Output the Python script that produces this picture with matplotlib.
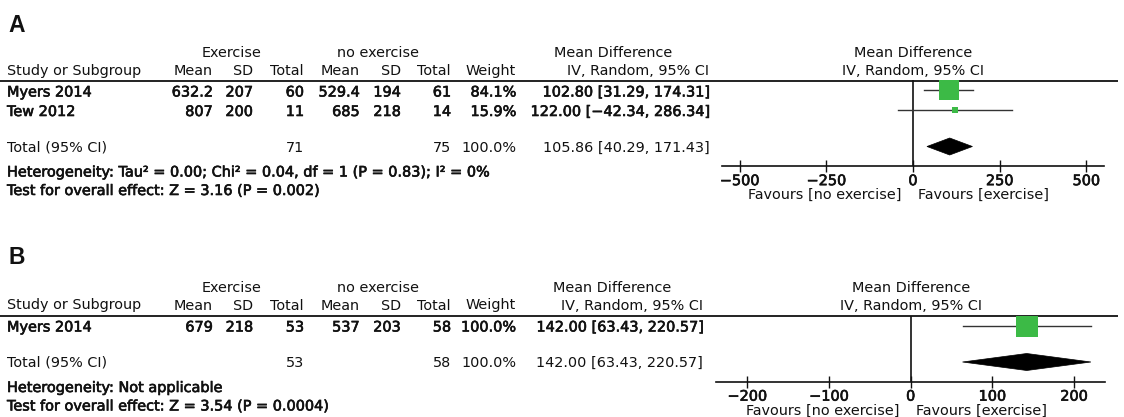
import matplotlib
matplotlib.use("Agg")
import matplotlib.pyplot as plt
from matplotlib.patches import Polygon
import matplotlib.patheffects as pe

# ---------------- data ----------------
# Panel A
a_studies = ["Myers 2014", "Tew 2012"]
a_ex_mean = [632.2, 807]
a_ex_sd = [207, 200]
a_ex_n = [60, 11]
a_ctl_mean = [529.4, 685]
a_ctl_sd = [194, 218]
a_ctl_n = [61, 14]
a_weight = [84.1, 15.9]
a_md = [102.80, 122.00]
a_lo = [31.29, -42.34]
a_hi = [174.31, 286.34]
a_total = [105.86, 40.29, 171.43]
a_heterogeneity = "Heterogeneity: Tau² = 0.00; Chi² = 0.04, df = 1 (P = 0.83); I² = 0%"
a_overall = "Test for overall effect: Z = 3.16 (P = 0.002)"
a_ticks = [-500, -250, 0, 250, 500]

# Panel B
b_studies = ["Myers 2014"]
b_ex_mean = [679]
b_ex_sd = [218]
b_ex_n = [53]
b_ctl_mean = [537]
b_ctl_sd = [203]
b_ctl_n = [58]
b_weight = [100.0]
b_md = [142.00]
b_lo = [63.43]
b_hi = [220.57]
b_total = [142.00, 63.43, 220.57]
b_heterogeneity = "Heterogeneity: Not applicable"
b_overall = "Test for overall effect: Z = 3.54 (P = 0.0004)"
b_ticks = [-200, -100, 0, 100, 200]

col_headers = ["Mean", "SD", "Total", "Mean", "SD", "Total", "Weight"]
group_headers = ["Exercise", "no exercise"]
favours = ["Favours [no exercise]", "Favours [exercise]"]

# ---------------- styling ----------------
W, H = 1124, 417
FONT = "DejaVu Sans"
FS = 10.4
INK = "#111111"
GREEN = "#3cba46"
heavy = [pe.withStroke(linewidth=0.45, foreground=INK)]

plt.rcParams["font.family"] = FONT
plt.rcParams["axes.unicode_minus"] = True

fig = plt.figure(figsize=(W / 100, H / 100), dpi=100)
bg = fig.add_axes([0, 0, 1, 1])
bg.set_xlim(0, W)
bg.set_ylim(H, 0)
bg.axis("off")

col_right = [212.7, 253, 304, 359.5, 400.7, 451, 516]
group_centres = [231.7, 378]


def fmt_num(v):
    return f"{v:g}"


def fmt_ci(md, lo, hi):
    s = f"{md:.2f} [{lo:.2f}, {hi:.2f}]"
    return s.replace("-", "\u2212")


def txt(x, y, s, ha="left", bold=False, **kw):
    bg.text(x, y, s, ha=ha, va="baseline", fontsize=FS, color=INK,
            path_effects=heavy if bold else None, **kw)


def panel(letter, top, letter_base, studies, ex_mean, ex_sd, ex_n,
          ctl_mean, ctl_sd, ctl_n, weight, md, lo, hi, total,
          heterogeneity, overall, ticks, ci_right, md_centre,
          zero_px, ppu, lim):
    # panel letter
    bg.text(8, letter_base, letter, ha="left", va="baseline",
            fontsize=16.5, fontweight="bold", family="Liberation Sans",
            color=INK)

    # header rows
    g_base = top + 56.5
    c_base = top + 74.5
    line_y = top + 80.5
    for c, s in zip(group_centres, group_headers):
        txt(c, g_base, s, ha="center")
    txt(md_centre, g_base, "Mean Difference", ha="center")
    txt(7, c_base, "Study or Subgroup")
    for x, s in zip(col_right, col_headers):
        txt(x, c_base, s, ha="right")
    txt(ci_right, c_base, "IV, Random, 95% CI", ha="right")

    txt(zero_px, g_base, "Mean Difference", ha="center")
    txt(zero_px, c_base, "IV, Random, 95% CI", ha="center")

    bg.plot([0, 1118], [line_y, line_y], color=INK, lw=1.3,
            solid_capstyle="butt")

    # study rows
    pitch = 19.5
    bases = [top + 96.5 + i * pitch for i in range(len(studies))]
    for i, b in enumerate(bases):
        txt(7, b, studies[i], bold=True)
        vals = [fmt_num(ex_mean[i]), fmt_num(ex_sd[i]), str(ex_n[i]),
                fmt_num(ctl_mean[i]), fmt_num(ctl_sd[i]), str(ctl_n[i]),
                f"{weight[i]:.1f}%"]
        for x, s in zip(col_right, vals):
            txt(x, b, s, ha="right", bold=True)
        txt(ci_right, b, fmt_ci(md[i], lo[i], hi[i]), ha="right", bold=True)

    # total row
    t_base = bases[-1] + 35.5
    txt(7, t_base, "Total (95% CI)")
    txt(col_right[2], t_base, str(sum(ex_n)), ha="right")
    txt(col_right[5], t_base, str(sum(ctl_n)), ha="right")
    txt(col_right[6], t_base, f"{sum(weight):.1f}%", ha="right")
    txt(ci_right, t_base, fmt_ci(*total), ha="right")

    h_base = t_base + 25
    txt(7, h_base, heterogeneity, bold=True)
    txt(7, h_base + 18.5, overall, bold=True)

    # forest plot axes, y in figure pixels
    row_y = [b - 6 for b in bases]
    total_y = t_base - 5
    axis_y = total_y + 20
    left = zero_px - lim * ppu
    width = 2 * lim * ppu
    ax = fig.add_axes([left / W, 1 - axis_y / H, width / W,
                       (axis_y - line_y) / H])
    ax.set_xlim(-lim, lim)
    ax.set_ylim(axis_y, line_y)
    ax.patch.set_alpha(0)
    for side in ("top", "left", "right"):
        ax.spines[side].set_visible(False)
    ax.spines["bottom"].set_linewidth(1.2)
    ax.spines["bottom"].set_color(INK)
    ax.set_yticks([])
    ax.set_xticks(ticks)
    ax.tick_params(axis="x", direction="inout", length=8, width=1,
                   color=INK, pad=1.5, labelsize=10.4, labelcolor=INK)
    for lab in ax.get_xticklabels():
        lab.set_path_effects(heavy)

    ax.axvline(0, color=INK, lw=1.2, zorder=1)
    for y, m, l, h, w in zip(row_y, md, lo, hi, weight):
        ax.plot([l, h], [y, y], color="#333333", lw=1.0, zorder=2)
        side_px = 21.7 * (w / 100) ** 0.7
        ax.plot([m], [y], marker="s", markersize=side_px * 0.72,
                color=GREEN, markeredgewidth=0, zorder=3)
    dh = 8.5
    ax.add_patch(Polygon([(total[1], total_y), (total[0], total_y - dh),
                          (total[2], total_y), (total[0], total_y + dh)],
                         closed=True, facecolor="black", edgecolor="black",
                         lw=0.5, zorder=3))

    fav_base = axis_y + 32.5
    bg.text(zero_px - 11, fav_base, favours[0], ha="right", va="baseline",
            fontsize=FS, color=INK)
    bg.text(zero_px + 5.5, fav_base, favours[1], ha="left", va="baseline",
            fontsize=FS, color=INK)


panel("A", 0, 31.7, a_studies, a_ex_mean, a_ex_sd, a_ex_n,
      a_ctl_mean, a_ctl_sd, a_ctl_n, a_weight, a_md, a_lo, a_hi, a_total,
      a_heterogeneity, a_overall, a_ticks, ci_right=709.3, md_centre=613.3,
      zero_px=913, ppu=0.3467, lim=552)

panel("B", 235, 264, b_studies, b_ex_mean, b_ex_sd, b_ex_n,
      b_ctl_mean, b_ctl_sd, b_ctl_n, b_weight, b_md, b_lo, b_hi, b_total,
      b_heterogeneity, b_overall, b_ticks, ci_right=703.3, md_centre=611.7,
      zero_px=910.7, ppu=0.817, lim=238)

fig.savefig("out.png", dpi=100)
